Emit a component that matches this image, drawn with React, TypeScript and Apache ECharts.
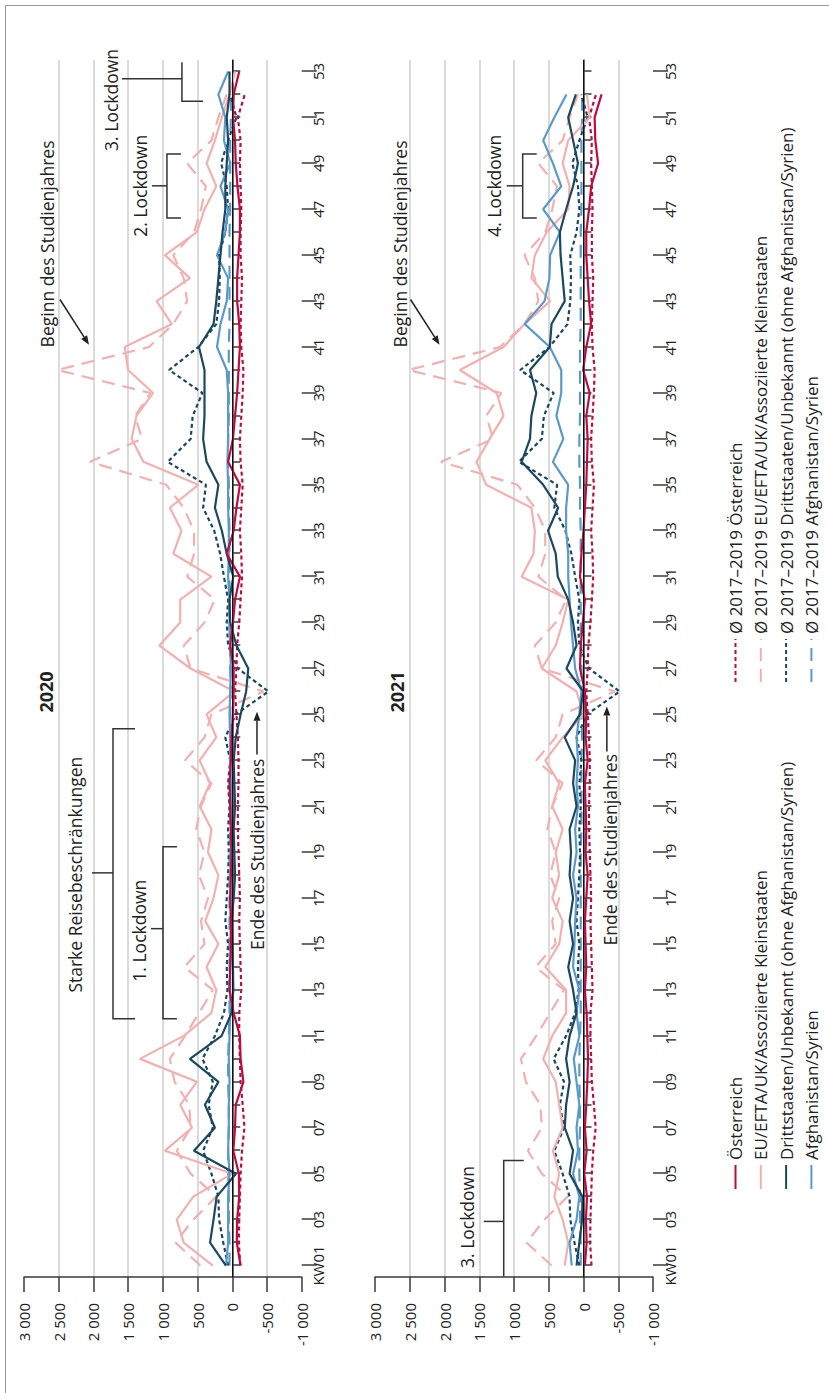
import React, { useEffect, useRef } from 'react';
import * as echarts from 'echarts';

const W = 1393;
const H = 829;
const FONT = 'Open Sans';

const weeks = ['KW01','02','03','04','05','06','07','08','09','10','11','12','13','14','15','16','17','18','19','20','21','22','23','24','25','26','27','28','29','30','31','32','33','34','35','36','37','38','39','40','41','42','43','44','45','46','47','48','49','50','51','52','53'];
const valueTicks = [-1000, -500, 0, 500, 1000, 1500, 2000, 2500, 3000];

const NAME_OE = 'Österreich';
const NAME_EU = 'EU/EFTA/UK/Assoziierte Kleinstaaten';
const NAME_DR = 'Drittstaaten/Unbekannt (ohne Afghanistan/Syrien)';
const NAME_AF = 'Afghanistan/Syrien';
const NAME_AVG_OE = 'Ø 2017–2019 Österreich';
const NAME_AVG_EU = 'Ø 2017–2019 EU/EFTA/UK/Assoziierte Kleinstaaten';
const NAME_AVG_DR = 'Ø 2017–2019 Drittstaaten/Unbekannt (ohne Afghanistan/Syrien)';
const NAME_AVG_AF = 'Ø 2017–2019 Afghanistan/Syrien';

// 2020
const oe2020 = [-120,-65,-70,-100,-95,-15,-40,-50,-160,-120, -110,-20,40,30,20,20,30,20,10,20, 30,40,20,10,-10,-20,-20,30,-10,-40, -110,80,-20,-60,-110,60,-10,-40,-70,-90, -110,-100,-70,-70,-90,-110,-110,-75,-50,-40, -10,-20,-100];
const eu2020 = [280,700,800,560,0,970,580,750,510,1330, 700,300,230,370,200,390,270,200,350,300, 470,320,470,230,370,-30,600,1050,750,750, 300,850,730,900,490,1280,1450,1380,1140,1500, 1550,870,1090,610,970,510,400,230,370,250, 150,40,-40];
const dr2020 = [91,320,270,225,-53,552,250,394,200,610, 154,10,-15,-10,0,10,-20,-40,-30,-20, -40,-30,-20,-50,-120,-200,-230,-60,30,40, -15,80,150,250,200,370,420,400,400,400, 480,270,230,200,170,140,100,100,80,60, 80,40,40];
const af2020 = [90,60,60,60,40,60,50,50,40,50, 40,30,30,30,20,20,20,30,20,20, 20,20,30,30,40,30,20,30,40,40, 60,50,50,60,60,70,60,60,60,80, 220,170,80,60,220,100,60,170,30,120, 100,200,60];

// 2021
const oe2021 = [-20,-45,-35,-50,-10,-45,-20,-40,-55,-65, -55,-45,-20,-40,-30,-20,-40,-60,-30,-40, -30,-20,-60,-30,-40,-20,50,40,10,-20, 50,30,0,-20,-40,-50,-60,-40,-90,5, -40,-110,-80,-60,-40,-40,-80,-110,-210,-170, -160,-260,null];
const eu2021 = [270,220,300,420,350,440,300,350,400,580, 450,250,250,550,350,300,450,350,400,300, 450,350,550,300,0,100,600,400,300,220, 890,720,700,750,1400,1540,1350,1150,1250,1780, 1150,850,480,750,700,530,220,200,300,220, -90,-50,null];
const dr2021 = [100,60,20,15,200,150,270,250,200,250, 200,100,150,220,150,200,150,200,180,200, 100,150,120,270,50,5,245,100,150,220, 370,400,510,365,580,890,770,750,680,770, 485,460,270,300,330,340,250,150,80,150, 220,110,null];
const af2021 = [170,200,100,60,150,80,100,60,100,140, 60,100,60,150,130,120,100,150,100,120, 80,100,80,100,60,30,120,150,180,200, 220,220,250,250,220,440,290,390,320,320, 485,845,560,490,480,340,580,320,440,580, 420,245,null];

// Ø 2017–2019 (same in both panels)
const avgOe = [-115,-95,-100,-110,-120,-140,-175,-150,-120,-110, -100,-100,-130,-120,-110,-100,-110,-100,-90,-80, -80,-90,-90,-80,-60,-40,-60,-70,-100,-120, -140,-130,-110,-130,-150,-120,-110,-130,-150,-160, -130,-120,-130,-140,-120,-120,-130,-120,-110,-120, -80,-180,null];
const avgEu = [460,820,560,230,600,800,600,620,830,900, 680,480,280,690,400,450,350,480,400,520, 450,300,680,400,300,-450,600,700,400,250, 650,550,550,700,950,2050,1300,1400,1180,2520, 1200,850,650,700,850,550,450,380,650,300, 200,80,null];
const avgDr = [60,130,190,200,300,420,280,340,280,430, 250,120,70,80,60,100,80,60,50,60, 40,60,30,100,-50,-520,-80,60,80,60, 120,175,260,420,380,930,600,570,430,910, 490,230,190,180,190,100,60,80,160,60, -60,30,null];
const avgAf = [40,40,50,50,60,60,50,50,60,60, 50,40,40,40,40,40,40,40,40,30, 30,30,30,20,30,20,30,30,40,40, 40,40,40,50,50,60,60,50,50,50, 50,40,40,40,40,40,30,30,30,30, 20,20,null];

const C_OE = '#BE0B40';
const C_EU = '#F2B0B0';
const C_DR = '#1B4760';
const C_AF = '#5B9AC8';
const AX = '#3a3a3a';
const TXT = '#222';

const fmt = (v: number) => {
  const a = Math.abs(v);
  const s = a >= 1000 ? `${Math.floor(a / 1000)} ${String(a % 1000).padStart(3, '0')}` : String(a);
  return (v < 0 ? '-' : '') + s;
};

function line(name: string, data: (number | null)[], color: string, dash: any, gi: number, extra: any = {}) {
  return {
    type: 'line', name, data, xAxisIndex: gi * 2, yAxisIndex: gi,
    symbol: 'none', showSymbol: false, silent: true, connectNulls: false,
    lineStyle: { color, width: 2.2, type: dash, cap: 'butt' },
    itemStyle: { color },
    ...extra,
  };
}

const zeroLine = {
  markLine: {
    silent: true, symbol: 'none', label: { show: false },
    lineStyle: { color: '#111', width: 1, type: 'solid' },
    data: [{ yAxis: 0 }],
  },
};

function panelSeries(gi: number, oe: any[], eu: any[], dr: any[], af: any[]) {
  return [
    line(NAME_AVG_EU, avgEu, C_EU, [13, 8], gi, zeroLine),
    line(NAME_AVG_AF, avgAf, C_AF, [13, 8], gi),
    line(NAME_AVG_DR, avgDr, C_DR, [4, 3], gi),
    line(NAME_AVG_OE, avgOe, C_OE, [4, 3], gi),
    line(NAME_EU, eu, C_EU, 'solid', gi),
    line(NAME_AF, af, C_AF, 'solid', gi),
    line(NAME_DR, dr, C_DR, 'solid', gi),
    line(NAME_OE, oe, C_OE, 'solid', gi),
  ];
}

const gridColors = ['transparent', '#cfcfcf', 'transparent', '#cfcfcf', '#cfcfcf', '#cfcfcf', '#cfcfcf', '#cfcfcf', 'transparent'];

function catAxes(gi: number) {
  const base = { type: 'category', gridIndex: gi, data: weeks, boundaryGap: true, position: 'bottom', splitLine: { show: false } };
  return [
    { ...base,
      axisLine: { show: true, lineStyle: { color: AX, width: 1.5 } },
      axisTick: { show: true, alignWithLabel: true, interval: 0, length: 8, lineStyle: { color: AX, width: 1.5 } },
      axisLabel: { show: false } },
    { ...base,
      axisLine: { show: false },
      axisTick: { show: true, alignWithLabel: true, interval: (i: number) => i % 2 === 0, length: 15, lineStyle: { color: AX, width: 1.5 } },
      axisLabel: { show: true, interval: (i: number) => i % 2 === 0, margin: 9, fontSize: 15, fontFamily: FONT, color: TXT } },
  ];
}

function valAxis(gi: number) {
  return {
    type: 'value', gridIndex: gi, min: valueTicks[0], max: valueTicks[valueTicks.length - 1], interval: 500,
    axisLine: { show: true, lineStyle: { color: AX, width: 1.5 } },
    axisTick: { show: true, length: 15, lineStyle: { color: AX, width: 1.5 } },
    axisLabel: { fontSize: 15, fontFamily: FONT, color: TXT, margin: 26, formatter: fmt },
    splitLine: { show: true, lineStyle: { color: gridColors, width: 1.5 } },
  };
}

type Ann = { gi: number; texts: [string, number, number][]; lines: [number, number][][]; arrows: [number, number, number, number][] };

const annotations: Ann[] = [
  {
    gi: 0,
    texts: [
      ['3. Lockdown', 51.76, 1741],
      ['2. Lockdown', 48.02, 1330],
      ['Beginn des Studienjahres', 45.49, 2663],
      ['Starke Reisebeschränkungen', 18.02, 2259],
      ['1. Lockdown', 15.58, 1337],
      ['Ende des Studienjahres', 18.91, -363],
    ],
    lines: [
      [[52.68, 1590], [52.68, 725]],
      [[53.4, 725], [51.7, 725], [51.7, 422]],
      [[48.02, 1157], [48.02, 941]],
      [[49.41, 739], [49.41, 941], [46.62, 941], [46.62, 739]],
      [[18.1, 2021], [18.1, 1718]],
      [[24.38, 1401], [24.38, 1718], [11.75, 1718], [11.75, 1401]],
      [[15.67, 1171], [15.67, 998]],
      [[19.24, 797], [19.24, 998], [11.75, 998], [11.75, 797]],
    ],
    arrows: [
      [43.07, 2482, 41.1, 2064],
      [23.25, -356, 25.12, -356],
    ],
  },
  {
    gi: 1,
    texts: [
      ['4. Lockdown', 48.02, 1285],
      ['Beginn des Studienjahres', 45.49, 2640],
      ['Ende des Studienjahres', 19.11, -379],
      ['3. Lockdown', 3.11, 1674],
    ],
    lines: [
      [[48.02, 1105], [48.02, 875]],
      [[49.41, 673], [49.41, 875], [46.62, 875], [46.62, 673]],
      [[2.92, 1436], [2.92, 1148]],
      [[0.52, 1148], [5.57, 1148], [5.57, 860]],
    ],
    arrows: [
      [43.07, 2489, 41.1, 2071],
      [23.38, -336, 25.34, -336],
    ],
  },
];

const legendCommon = {
  orient: 'vertical', top: 727, itemHeight: 14, itemGap: 8.3, padding: 0,
  selectedMode: false,
  itemStyle: { opacity: 0 },
  textStyle: { fontSize: 17, lineHeight: 16, fontFamily: FONT, color: TXT },
};

export default function App() {
  const ref = useRef<HTMLDivElement>(null);
  useEffect(() => {
    if (!ref.current) return;
    const chart = echarts.init(ref.current, null, { renderer: 'svg', width: W, height: H });
    const option: any = {
      animation: false,
      backgroundColor: '#fff',
      textStyle: { fontFamily: FONT },
      grid: [
        { left: 116, right: 60, top: 24, height: 277.7 },
        { left: 116, right: 60, top: 375, height: 278 },
      ],
      xAxis: [...catAxes(0), ...catAxes(1)],
      yAxis: [valAxis(0), valAxis(1)],
      legend: [
        { ...legendCommon, left: 203, itemWidth: 24, data: [NAME_OE, NAME_EU, NAME_DR, NAME_AF] },
        { ...legendCommon, left: 710, itemWidth: 43, data: [NAME_AVG_OE, NAME_AVG_EU, NAME_AVG_DR, NAME_AVG_AF] },
      ],
      series: [
        ...panelSeries(0, oe2020, eu2020, dr2020, af2020),
        ...panelSeries(1, oe2021, eu2021, dr2021, af2021),
      ],
    };
    chart.setOption(option);

    const conv = (gi: number, w: number, v: number) => {
      const si = gi * 8;
      const a = chart.convertToPixel({ seriesIndex: si }, [0, -1000]) as number[];
      const b = chart.convertToPixel({ seriesIndex: si }, [52, 3000]) as number[];
      return [a[0] + ((w - 1) / 52) * (b[0] - a[0]), a[1] + ((v + 1000) / 4000) * (b[1] - a[1])];
    };

    const els: any[] = [];
    const textStyle = (text: string, extra: any = {}) => ({
      text, fontSize: 17.5, fontFamily: FONT, fill: TXT,
      align: 'center', verticalAlign: 'middle', textAlign: 'center', textVerticalAlign: 'middle', ...extra,
    });
    els.push({ type: 'text', x: 701, y: 46, style: textStyle('2020', { fontWeight: 'bold', fontSize: 18 }) });
    els.push({ type: 'text', x: 701, y: 397, style: textStyle('2021', { fontWeight: 'bold', fontSize: 18 }) });
    annotations.forEach((an) => {
      an.texts.forEach(([t, w, v]) => {
        const p = conv(an.gi, w, v);
        els.push({ type: 'text', x: p[0], y: p[1], style: textStyle(t) });
      });
      an.lines.forEach((pts) => {
        els.push({
          type: 'polyline',
          shape: { points: pts.map(([w, v]) => conv(an.gi, w, v)) },
          style: { stroke: '#333', lineWidth: 1.5, fill: null },
        });
      });
      an.arrows.forEach(([w0, v0, w1, v1]) => {
        const p0 = conv(an.gi, w0, v0);
        const p1 = conv(an.gi, w1, v1);
        const dx = p1[0] - p0[0], dy = p1[1] - p0[1];
        const L = Math.hypot(dx, dy);
        const ux = dx / L, uy = dy / L;
        const hl = 9, hw = 3.5;
        const bx = p1[0] - ux * hl, by = p1[1] - uy * hl;
        els.push({ type: 'line', shape: { x1: p0[0], y1: p0[1], x2: bx, y2: by }, style: { stroke: '#222', lineWidth: 1.5 } });
        els.push({
          type: 'polygon',
          shape: { points: [[p1[0], p1[1]], [bx - uy * hw, by + ux * hw], [bx + uy * hw, by - ux * hw]] },
          style: { fill: '#222' },
        });
      });
    });
    chart.setOption({ graphic: { elements: els } });
    return () => chart.dispose();
  }, []);

  return (
    <div style={{ position: 'fixed', left: 0, top: 0, width: 829, height: 1393, overflow: 'hidden', background: '#fff' }}>
      <div
        ref={ref}
        style={{
          position: 'absolute', left: 0, top: 0, width: W, height: H,
          transformOrigin: '0 0', transform: `translateY(${W}px) rotate(-90deg)`,
        }}
      />
      <div style={{ position: 'absolute', left: 5, top: 5, width: 900, height: 1500, borderLeft: '1px solid #999', borderTop: '1px solid #999', pointerEvents: 'none' }} />
    </div>
  );
}
